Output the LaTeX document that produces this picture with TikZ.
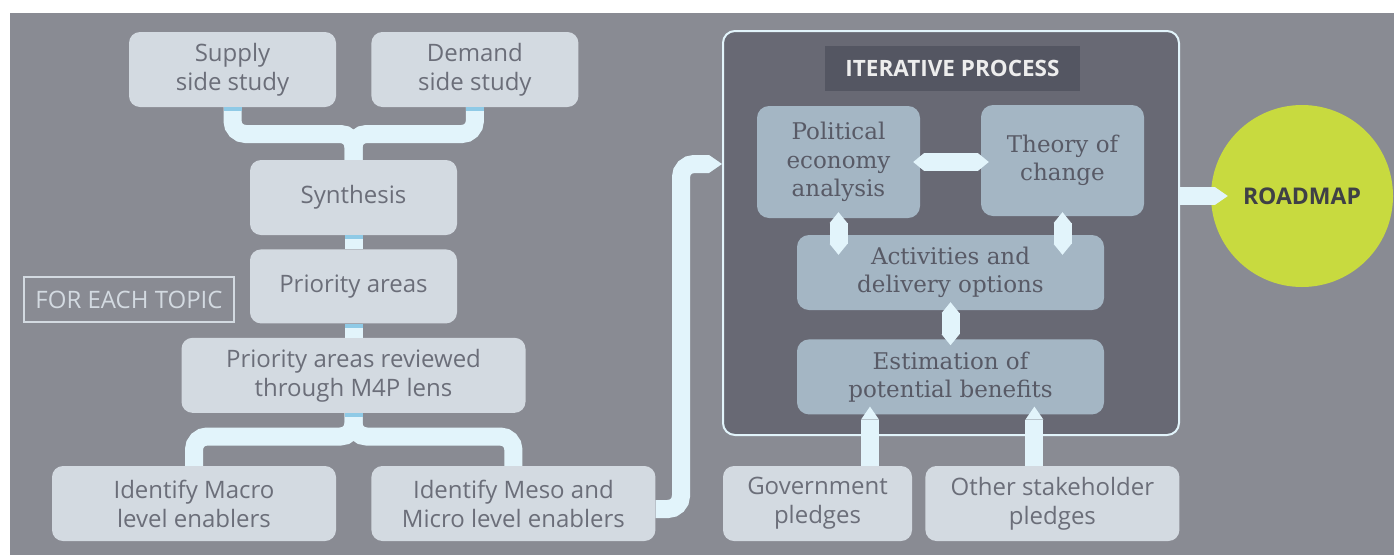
\documentclass[tikz,border=0pt]{standalone}
\usepackage{fontspec}
\setmainfont{Open Sans}
\newfontfamily\boxserif{DejaVu Serif}
\usepackage{tikz}
\usepackage{xcolor}
\definecolor{map_bg}{HTML}{898B93}
\definecolor{map_box}{HTML}{D3DAE1}
\definecolor{map_text}{HTML}{6B6E79}
\definecolor{map_pipe}{HTML}{E2F4FB}
\definecolor{map_stub}{HTML}{8FCAE6}
\definecolor{map_dark}{HTML}{686974}
\definecolor{map_title}{HTML}{545662}
\definecolor{map_titletext}{HTML}{EDEDED}
\definecolor{map_inner}{HTML}{A4B6C4}
\definecolor{map_innertext}{HTML}{585A66}
\definecolor{map_goal}{HTML}{C8DA3F}
\definecolor{map_goaltext}{HTML}{3F4046}
\usetikzlibrary{positioning,calc,arrows.meta}
\tikzset{STEP/.style={rectangle,rounded corners=11pt,fill=map_box,text=map_text,align=center,inner sep=0pt,font=\fontsize{24}{29}\selectfont}}
\tikzset{INNER/.style={rectangle,rounded corners=12pt,fill=map_inner,text=map_innertext,align=center,inner sep=0pt,font=\boxserif\fontsize{23}{28.5}\selectfont}}
\tikzset{LABEL/.style={rectangle,draw=map_box,line width=2pt,text=map_box,minimum width=210pt,minimum height=45pt,inner sep=0pt,font=\fontsize{24}{27}\selectfont}}
\tikzset{PIPE/.style={line width=18pt,draw=map_pipe,rounded corners=13pt}}
\tikzset{STUB/.style={line width=18pt,draw=map_stub}}
\tikzset{ARROW/.style={line width=18pt,draw=map_pipe,-{Triangle[length=13pt 0 0,width=18pt 0 0,line width=0pt 0 0]}}}
\tikzset{DARROW/.style={line width=18pt,draw=map_pipe,{Triangle[length=11pt 0 0,width=18pt 0 0,line width=0pt 0 0]}-{Triangle[length=11pt 0 0,width=18pt 0 0,line width=0pt 0 0]}}}

\begin{document}
\begin{tikzpicture}[x=1pt,y=-1pt]

\useasboundingbox (0,0) rectangle (1394,555);
\fill[map_bg] (10,13) rectangle (1394,555);

\node[STEP, minimum width=207pt, minimum height=75pt] (n_supply) at (232.5,69.5) {Supply\\side study};
\node[STEP, minimum width=207pt, minimum height=75pt, right=35pt of n_supply] (n_demand) {Demand\\side study};
\node[STEP, minimum width=207pt, minimum height=75pt] (n_synthesis) at (353.5,197.5) {Synthesis};
\node[STEP, minimum width=207pt, minimum height=74pt, below=14pt of n_synthesis] (n_priority) {Priority areas};
\node[STEP, minimum width=344pt, minimum height=75pt, below=14pt of n_priority] (n_reviewed) {Priority areas reviewed\\through M4P lens};
\node[STEP, minimum width=284pt, minimum height=75pt] (n_macro) at (194,503.5) {Identify Macro\\level enablers};
\node[STEP, minimum width=284pt, minimum height=75pt, right=35pt of n_macro] (n_meso) {Identify Meso and\\Micro level enablers};
\node[LABEL] (n_topic) at (129,299.5) {FOR EACH TOPIC};

\coordinate (c_merge) at (353.5,134);
\draw[PIPE] (n_supply.south) |- (c_merge) -- (n_synthesis.north);
\draw[PIPE] (n_demand.south) |- (c_merge) -- (n_synthesis.north);
\draw[PIPE] (n_synthesis.south) -- (n_priority.north);
\draw[PIPE] (n_priority.south) -- (n_reviewed.north);

\coordinate (c_split) at (353.5,436.5);
\draw[PIPE] (n_reviewed.south) -- (c_split) -| (n_macro.north);
\draw[PIPE] (n_reviewed.south) -- (c_split) -| (n_meso.north);

\draw[STUB] (n_supply.south) -- ++(0,4);
\draw[STUB] (n_demand.south) -- ++(0,4);
\draw[STUB] (n_synthesis.south) -- ++(0,4);
\draw[STUB] (n_priority.south) -- ++(0,4);
\draw[STUB] (n_reviewed.south) -- ++(0,4);

\node[rectangle, rounded corners=12pt, draw=map_pipe, line width=2pt, fill=map_dark, minimum width=456pt, minimum height=404pt] (n_iter) at (951,233) {};
\node[rectangle, fill=map_title, text=map_titletext, minimum width=255pt, minimum height=45pt, font=\bfseries\fontsize{22.5}{27}\selectfont] (n_title) at (952.5,68.5) {ITERATIVE PROCESS};

\node[INNER, minimum width=163pt, minimum height=112pt] (n_political) at (838.5,162) {Political\\economy\\analysis};
\node[INNER, minimum width=163pt, minimum height=111pt] (n_theory) at (1062.5,160.5) {Theory of\\change};
\node[INNER, minimum width=307pt, minimum height=75pt] (n_activities) at (950.5,272.5) {Activities and\\delivery options};
\node[INNER, minimum width=307pt, minimum height=75pt, below=29pt of n_activities] (n_estimation) {Estimation of\\potential benefits};

\node[STEP, minimum width=189pt, minimum height=75pt] (n_gov) at (817.5,503.5) {Government\\pledges};
\node[STEP, minimum width=254pt, minimum height=75pt, right=13pt of n_gov] (n_other) {Other stakeholder\\pledges};

\node[circle, fill=map_goal, text=map_goaltext, minimum size=182pt, inner sep=0pt, font=\bfseries\fontsize{23}{27}\selectfont] (n_roadmap) at (1302,196) {ROADMAP};

\draw[DARROW, shorten <=-7pt, shorten >=-8pt] (n_political.east) -- (n_political.east -| n_theory.west);
\draw[DARROW, shorten <=-6pt, shorten >=-20pt] (n_political.south) -- (n_political.south |- n_activities.north);
\draw[DARROW, shorten <=-4pt, shorten >=-20pt] (n_theory.south) -- (n_theory.south |- n_activities.north);
\draw[DARROW, shorten <=-8pt, shorten >=-6pt] (n_activities.south) -- (n_estimation.north);

\draw[ARROW, shorten >=-8pt] ($(n_gov.north)+(52.5,0)$) -- ($(n_gov.north |- n_estimation.south)+(52.5,0)$);
\draw[ARROW, shorten >=-8pt] ($(n_other.north)+(-18,0)$) -- ($(n_other.north |- n_estimation.south)+(-18,0)$);

\coordinate (c_riser) at (681,164);
\draw[PIPE, ARROW] ($(n_meso.east)+(0,5.5)$) -| (c_riser) -- (n_iter.west |- c_riser);
\draw[ARROW, shorten >=-17pt] (n_iter.east |- n_roadmap.center) -- (n_roadmap.west);

\end{tikzpicture}
\end{document}
